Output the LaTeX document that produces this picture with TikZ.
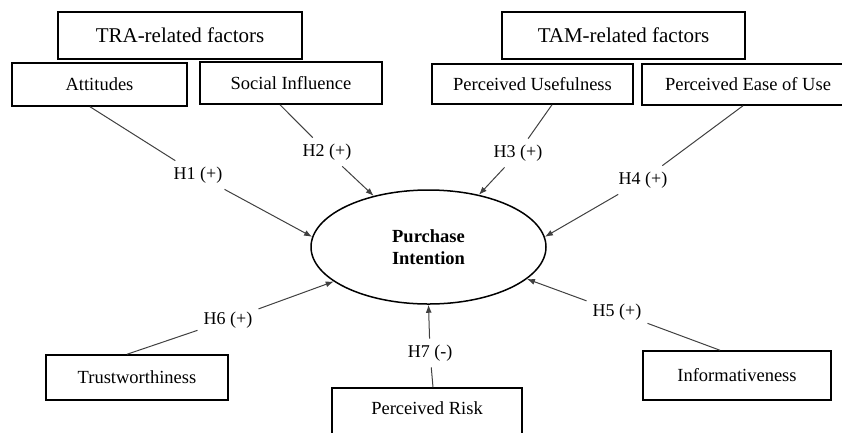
\documentclass[tikz,border=0pt]{standalone}
\usepackage{fontspec}
\setmainfont{Liberation Serif}
\usetikzlibrary{shapes.geometric,arrows.meta}

\begin{document}
\begin{tikzpicture}[x=1pt, y=-1pt,
    factor/.style={draw, line width=1.5pt, inner sep=0pt, font=\fontsize{18.5}{22}\selectfont},
    group/.style={factor, font=\fontsize{21}{25}\selectfont},
    hyp/.style={inner sep=6pt, font=\fontsize{18}{22}\selectfont},
    link/.style={draw=black!75, line width=1pt},
    effect/.style={link, -{Latex[length=8pt,width=6pt]}}]

    \useasboundingbox (0,0) rectangle (842,432);

    % TRA-related factors
    \node[group, minimum width=244pt, minimum height=47pt] (tra) at (180,35.5) {TRA-related factors};
    \node[factor, minimum width=175pt, minimum height=43pt] (att) at (99.5,84.5) {Attitudes};
    \node[factor, minimum width=182pt, minimum height=42pt] (soc) at (291,83) {Social Influence};

    % TAM-related factors
    \node[group, minimum width=243pt, minimum height=47pt] (tam) at (623.5,35.5) {TAM-related factors};
    \node[factor, minimum width=201pt, minimum height=40pt] (pu) at (532.5,84) {Perceived Usefulness};
    \node[factor, minimum width=212pt, minimum height=41pt] (peou) at (748,84.5) {Perceived Ease of Use};

    % Purchase intention
    \node[ellipse, draw, line width=1.5pt, minimum width=235pt, minimum height=114pt, inner sep=0pt,
          align=center, font=\bfseries\fontsize{18.5}{22}\selectfont] (pi) at (428.5,247) {Purchase\\Intention};

    % Other factors
    \node[factor, minimum width=182pt, minimum height=45pt] (tru) at (137,377.5) {Trustworthiness};
    \node[factor, minimum width=190pt, minimum height=50pt, text depth=10pt] (risk) at (427,413) {Perceived Risk};
    \node[factor, minimum width=188pt, minimum height=49pt] (inf) at (737,375.5) {Informativeness};

    % Hypotheses
    \node[hyp] (h1) at (198,175) {H1 (+)};
    \node[hyp] (h2) at (327,152) {H2 (+)};
    \node[hyp] (h3) at (518,153) {H3 (+)};
    \node[hyp] (h4) at (643,180) {H4 (+)};
    \node[hyp] (h5) at (617,312) {H5 (+)};
    \node[hyp] (h6) at (228,320) {H6 (+)};
    \node[hyp] (h7) at (430,353) {H7 (-)};

    \draw[link] ([xshift=-9.5pt]att.south) -- (h1);
    \draw[effect] (h1) -- (pi.175);
    \draw[link] ([xshift=-11pt]soc.south) -- (h2);
    \draw[effect] (h2) -- (pi.137);
    \draw[link] ([xshift=19.5pt]pu.south) -- (h3);
    \draw[effect] (h3) -- (pi.46);
    \draw[link] ([xshift=-5pt]peou.south) -- (h4);
    \draw[effect] (h4) -- (pi.5);
    \draw[link] ([xshift=-17pt]inf.north) -- (h5);
    \draw[effect] (h5) -- (pi.-18.5);
    \draw[link] ([xshift=-10pt]tru.north) -- (h6);
    \draw[effect] (h6) -- (pi.200);
    \draw[link] ([xshift=6pt]risk.north) -- (h7);
    \draw[effect] (h7) -- (pi.-90);
\end{tikzpicture}
\end{document}
